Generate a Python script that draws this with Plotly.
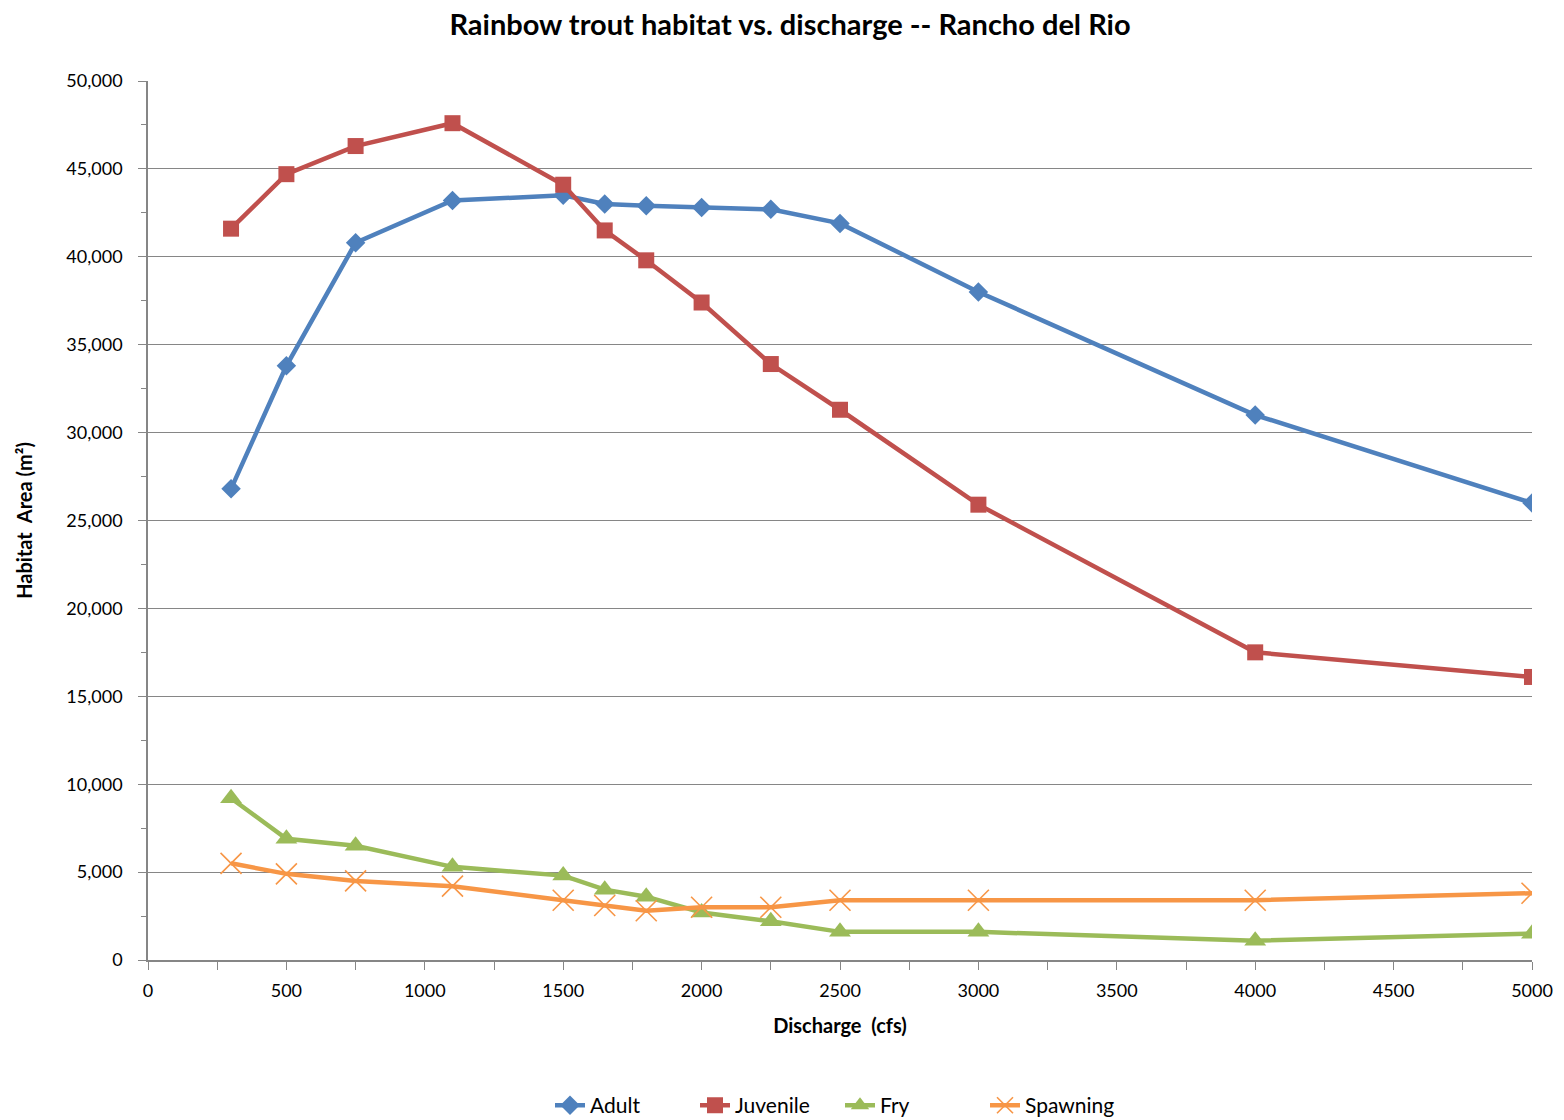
import plotly.graph_objects as go

discharge = [300, 500, 750, 1100, 1500, 1650, 1800, 2000, 2250, 2500, 3000, 4000, 5000]
adult = [26800, 33800, 40800, 43200, 43500, 43000, 42900, 42800, 42700, 41900, 38000, 31000, 26000]
juvenile = [41600, 44700, 46300, 47600, 44100, 41500, 39800, 37400, 33900, 31300, 25900, 17500, 16100]
fry = [9200, 6900, 6500, 5300, 4800, 4000, 3600, 2700, 2200, 1600, 1600, 1100, 1500]
spawning = [5500, 4900, 4500, 4200, 3400, 3100, 2800, 3000, 3000, 3400, 3400, 3400, 3800]

series = [
    ("Adult", adult, "#4F81BD", dict(symbol="diamond", size=15)),
    ("Juvenile", juvenile, "#C0504D", dict(symbol="square", size=16)),
    ("Fry", fry, "#9BBB59", dict(symbol="triangle-up", size=19)),
    ("Spawning", spawning, "#F79646", dict(symbol="x-thin-open", size=21)),
]

FONT = "Lato, 'Open Sans', sans-serif"

fig = go.Figure()
for name, vals, color, mk in series:
    marker = dict(color=color, **mk)
    if mk["symbol"] == "x-thin-open":
        marker["line"] = dict(color=color, width=1.6)
    fig.add_trace(go.Scatter(
        x=discharge, y=vals, name=name, mode="lines+markers",
        line=dict(color=color, width=4.5), marker=marker,
    ))

fig.update_layout(
    width=1564, height=1120,
    paper_bgcolor="white", plot_bgcolor="white",
    margin=dict(l=140, r=40, t=73, b=168),
    font=dict(family=FONT, size=18, color="#000000"),
    title=dict(text="<b>Rainbow trout habitat vs. discharge -- Rancho del Rio</b>",
               x=0.5, xanchor="center", y=0.994, yanchor="top",
               pad=dict(t=0, b=0),
               font=dict(size=29, family=FONT)),
    showlegend=True,
    legend=dict(orientation="h", x=0.5, xanchor="center",
                yref="container", y=0.02, yanchor="middle",
                font=dict(size=21, family=FONT), entrywidth=100, tracegroupgap=0),
    xaxis=dict(
        range=[0, 5000], tickvals=list(range(0, 5001, 500)),
        showgrid=False, zeroline=False,
        showline=True, linecolor="#868686", linewidth=1.5,
        ticks="outside", ticklen=8, tickcolor="#868686", tickwidth=1,
        minor=dict(dtick=250, ticks="outside", ticklen=8, tickcolor="#868686"),
        title=dict(text="<b>Discharge  (cfs)</b>", font=dict(size=20), standoff=19),
        tickfont=dict(size=18), ticklabelstandoff=6,
    ),
    yaxis=dict(
        range=[0, 50000], dtick=5000, tickformat=",d",
        showgrid=True, gridcolor="#868686", gridwidth=1.2,
        zeroline=False, showline=True, linecolor="#868686", linewidth=1.5,
        ticks="outside", ticklen=8, tickcolor="#868686",
        minor=dict(dtick=2500, ticks="outside", ticklen=5, tickcolor="#868686", showgrid=False),
        title=dict(text="<b>Habitat  Area (m²)</b>", font=dict(size=20), standoff=28),
        tickfont=dict(size=18), ticklabelstandoff=12,
    ),
)

fig.write_html("out.html")
